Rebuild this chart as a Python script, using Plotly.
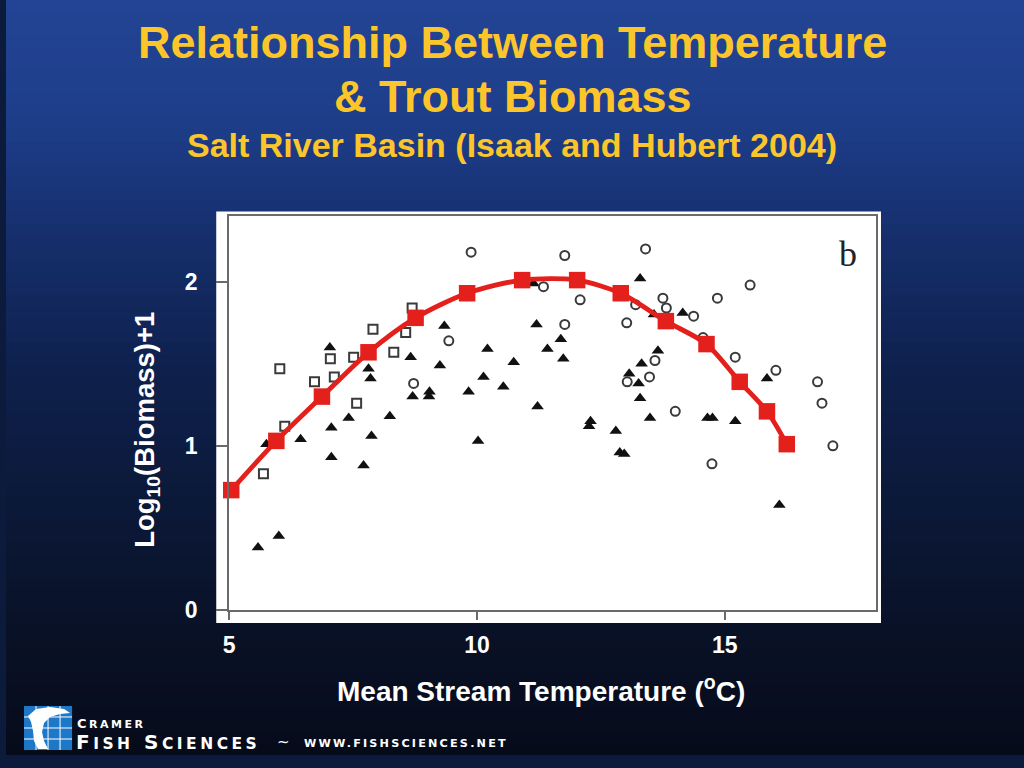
import plotly.graph_objects as go

# ---------------- data ----------------
tri_x = [11.14, 13.29, 14.15, 13.57, 11.69, 11.42, 11.74, 13.65, 13.32, 13.07, 13.26, 13.29,
         11.22, 12.29, 12.26, 12.80, 13.49, 14.65, 14.75, 15.21, 12.88, 12.97, 16.10, 15.85,
         9.34, 9.83, 10.21, 10.13, 10.53, 10.74, 11.20, 10.02, 7.03, 7.81, 7.85, 8.66, 8.70,
         9.04, 9.03, 9.25, 7.41, 8.24, 7.06, 7.87, 6.44, 7.06, 7.71, 5.75, 6.00, 5.58]
tri_y = [1.99, 2.02, 1.81, 1.80, 1.65, 1.59, 1.53, 1.58, 1.50, 1.44, 1.38, 1.29,
         1.24, 1.15, 1.12, 1.09, 1.17, 1.17, 1.17, 1.15, 0.96, 0.95, 0.64, 1.41,
         1.73, 1.33, 1.59, 1.42, 1.36, 1.51, 1.74, 1.03, 1.60, 1.47, 1.41, 1.54, 1.30,
         1.33, 1.30, 1.49, 1.17, 1.18, 1.11, 1.06, 1.04, 0.93, 0.88, 1.01, 0.45, 0.38]

sq_x = [8.69, 7.90, 8.56, 7.04, 7.51, 8.32, 6.02, 6.72, 7.12, 7.57, 6.12, 5.69]
sq_y = [1.84, 1.71, 1.69, 1.53, 1.54, 1.57, 1.47, 1.39, 1.42, 1.26, 1.12, 0.83]

circ_x = [9.88, 11.77, 13.40, 15.51, 11.34, 12.08, 11.77, 13.02, 13.20, 13.75, 13.82, 14.37,
          14.85, 14.56, 13.59, 13.48, 13.03, 14.00, 14.74, 15.21, 16.03, 16.87, 16.96, 17.18,
          9.43, 8.72]
circ_y = [2.18, 2.16, 2.20, 1.98, 1.97, 1.89, 1.74, 1.75, 1.86, 1.90, 1.84, 1.79,
          1.90, 1.66, 1.52, 1.42, 1.39, 1.21, 0.89, 1.54, 1.46, 1.39, 1.26, 1.00,
          1.64, 1.38]

curve_x = [5.04, 5.95, 6.87, 7.81, 8.76, 9.80, 10.91, 12.02, 12.90, 13.81, 14.63, 15.30, 15.85, 16.25]
curve_y = [0.73, 1.03, 1.30, 1.57, 1.78, 1.93, 2.01, 2.01, 1.93, 1.76, 1.62, 1.39, 1.21, 1.01]

x_ticks = [5, 10, 15]
x_tick_labels = ["5", "10", "15"]
y_ticks = [0, 1, 2]
y_tick_labels = ["0", "1", "2"]

title_1 = "Relationship Between Temperature"
title_2 = "&amp; Trout Biomass"
title_3 = "Salt River Basin (Isaak and Hubert 2004)"
x_title = "Mean Stream Temperature (<sup>o</sup>C)"
y_title = "Log<sub>10</sub>(Biomass)+1"
panel_label = "b"

# ---------------- helpers ----------------
W, H = 1024, 768


def px(x):
    return ((x - 6) / 0.993) / W


def py(y):
    return 1 - ((y - 0.8) / 0.982) / H


FONT = "Liberation Sans, Arial, sans-serif"
YELLOW = "#FCC62B"
RED = "#E3201B"
AXC = "#6a6a6a"

fig = go.Figure()

fig.add_trace(go.Scatter(x=tri_x, y=tri_y, mode="markers",
                         marker=dict(symbol="triangle-up", size=11, color="#111111"),
                         showlegend=False, hoverinfo="skip"))
fig.add_trace(go.Scatter(x=sq_x, y=sq_y, mode="markers",
                         marker=dict(symbol="square-open", size=9, color="#3a3a3a",
                                     line=dict(width=2, color="#3a3a3a")),
                         showlegend=False, hoverinfo="skip"))
fig.add_trace(go.Scatter(x=circ_x, y=circ_y, mode="markers",
                         marker=dict(symbol="circle-open", size=9, color="#3a3a3a",
                                     line=dict(width=2, color="#3a3a3a")),
                         showlegend=False, hoverinfo="skip"))
fig.add_trace(go.Scatter(x=curve_x, y=curve_y, mode="lines+markers",
                         line=dict(color=RED, width=4.8, shape="spline", smoothing=0.8),
                         marker=dict(symbol="square", size=16.5, color=RED),
                         cliponaxis=False, showlegend=False, hoverinfo="skip"))

# ---------------- background gradient ----------------
stops = [(0, (35, 68, 148)), (120, (30, 62, 138)), (250, (21, 46, 106)),
         (380, (14, 32, 76)), (520, (11, 24, 55)), (650, (9, 17, 38)), (768, (6, 11, 25))]


def col_at(y):
    for (y0, c0), (y1, c1) in zip(stops[:-1], stops[1:]):
        if y0 <= y <= y1:
            t = (y - y0) / (y1 - y0)
            return "rgb(%d,%d,%d)" % tuple(round(a + (b - a) * t) for a, b in zip(c0, c1))
    return "rgb(6,11,25)"


shapes = []
n = 64
step = H / n
for i in range(n):
    y0 = i * step
    y1 = (i + 1) * step + 1
    shapes.append(dict(type="rect", xref="paper", yref="paper", layer="below",
                       x0=0, x1=1, y0=1 - min(y1, H) / H, y1=1 - y0 / H,
                       fillcolor=col_at(y0 + step / 2), line=dict(width=0)))

# white panel behind the plot
shapes.append(dict(type="rect", xref="paper", yref="paper", layer="below",
                   x0=px(216), x1=px(880), y0=py(623), y1=py(212),
                   fillcolor="white", line=dict(width=0)))

# logo: blue square with grid + fish
shapes.append(dict(type="rect", xref="paper", yref="paper", x0=px(24), x1=px(72),
                   y0=py(750), y1=py(706), fillcolor="#1E78C8", line=dict(width=0)))
for gx in [36, 48, 60]:
    shapes.append(dict(type="line", xref="paper", yref="paper", x0=px(gx), x1=px(gx),
                       y0=py(750), y1=py(706), line=dict(color="white", width=1)))
for gy in [717, 728, 739]:
    shapes.append(dict(type="line", xref="paper", yref="paper", x0=px(24), x1=px(72),
                       y0=py(gy), y1=py(gy), line=dict(color="white", width=1)))
fish = [(28, 716), (36, 709), (50, 707), (64, 709), (70, 713), (60, 714), (50, 717),
        (44, 723), (42, 732), (44, 741), (48, 749), (38, 749), (34, 741), (33, 731), (31, 722)]
path = "M " + " L ".join("%.5f,%.5f" % (px(a), py(b)) for a, b in fish) + " Z"
shapes.append(dict(type="path", xref="paper", yref="paper", path=path,
                   fillcolor="white", line=dict(width=0)))

# ---------------- annotations ----------------
ann = []


def add_text(text, x, y, size, color, family=FONT, xanchor="center", angle=0, weight=None):
    f = dict(family=family, size=size, color=color)
    if weight:
        f["weight"] = weight
    ann.append(dict(text=text, x=px(x), y=py(y), xref="paper", yref="paper",
                    xanchor=xanchor, yanchor="middle", showarrow=False,
                    textangle=angle, font=f, borderpad=0))


add_text("<b>%s</b>" % title_1, 512, 43, 45, YELLOW)
add_text("<b>%s</b>" % title_2, 512, 97, 45, YELLOW)
add_text("<b>%s</b>" % title_3, 511, 146, 34, YELLOW)
add_text("<b>%s</b>" % x_title, 540, 689, 28, "white")
add_text("<b>%s</b>" % y_title, 147, 430, 27.5, "white", angle=-90)
add_text(panel_label, 847, 255, 36, "#222222", family="Liberation Serif, Times New Roman, serif")

# logo text
add_text('<span style="letter-spacing:2.5px">C<span style="font-size:11px">RAMER</span></span>',
         76, 724, 13, "white", family="DejaVu Sans", xanchor="left", weight="bold")
add_text('<span style="letter-spacing:3.5px">F<span style="font-size:15.5px">ISH</span> '
         'S<span style="font-size:15.5px">CIENCES</span></span>',
         75, 742, 20, "white", family="DejaVu Sans", xanchor="left", weight="bold")
add_text('~', 283, 742, 15, "white", family="DejaVu Sans")
add_text('<span style="letter-spacing:2.2px">WWW.FISHSCIENCES.NET</span>',
         303, 743, 11.2, "white", family="DejaVu Sans", xanchor="left", weight="bold")

fig.update_layout(
    width=W, height=H,
    margin=dict(l=0, r=0, t=0, b=0),
    paper_bgcolor="rgb(12,26,60)",
    plot_bgcolor="white",
    shapes=shapes,
    annotations=ann,
    showlegend=False,
    xaxis=dict(domain=[px(229), px(875)], range=[5, 18.05], showgrid=False, zeroline=False,
               showline=True, mirror=True, linecolor=AXC, linewidth=2,
               ticks="outside", ticklen=8, tickwidth=2, tickcolor=AXC,
               tickvals=x_ticks, ticktext=x_tick_labels, ticklabelstandoff=6,
               tickfont=dict(family=FONT, size=23, color="white", weight="bold")),
    yaxis=dict(domain=[py(610), py(216.7)], range=[0, 2.4], showgrid=False, zeroline=False,
               showline=True, mirror=True, linecolor=AXC, linewidth=2,
               ticks="outside", ticklen=11, tickwidth=2, tickcolor=AXC,
               tickvals=y_ticks, ticktext=y_tick_labels, ticklabelstandoff=14,
               tickfont=dict(family=FONT, size=23, color="white", weight="bold")),
)

GRAD = ("linear-gradient(to bottom, rgb(35,68,148) 0%, rgb(30,62,138) 15.6%, "
        "rgb(21,46,106) 32.5%, rgb(14,32,76) 49.5%, rgb(11,24,55) 67.7%, "
        "rgb(9,17,38) 84.6%, rgb(6,11,25) 100%)")

fig.write_html(
    "out.html",
    config={"displayModeBar": False},
    post_script=(
        "var g=document.getElementById('{plot_id}');"
        "g.style.position='fixed';g.style.left='0px';g.style.top='0px';"
        "var h=document.documentElement;"
        "h.style.height='100%';h.style.overflow='hidden';"
        "h.style.background='" + GRAD + "';"
        "document.body.style.margin='0px';document.body.style.padding='0px';"
        "document.body.style.overflow='hidden';"
        "document.body.style.background='transparent';"
    ),
)
